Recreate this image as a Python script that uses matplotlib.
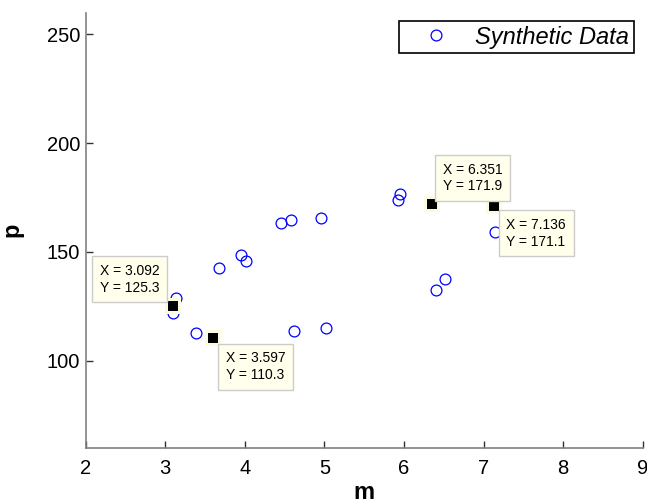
import numpy as np
import matplotlib.pyplot as plt

plt.rcParams['font.family'] = ['Liberation Sans', 'DejaVu Sans']

# synthetic data points
m = [3.13, 3.10, 3.38, 3.68, 3.95, 4.01, 4.45, 4.58, 4.96, 4.62, 5.02,
     5.95, 5.93, 7.15, 6.52, 6.40, 3.092, 3.597, 6.351, 7.136]
p = [128.7, 121.8, 112.5, 142.4, 148.4, 145.8, 163.3, 164.5, 165.6, 113.5, 115.0,
     176.6, 174.0, 159.2, 137.7, 132.5, 125.3, 110.3, 171.9, 171.1]

# data tips
tip_x = [3.092, 3.597, 6.351, 7.136]
tip_y = [125.3, 110.3, 171.9, 171.1]
tip_offset = [(-13, 11), (13, -13), (11, 11), (12, -12)]
tip_align = [('right', 'bottom'), ('left', 'top'), ('left', 'bottom'), ('left', 'top')]

fig = plt.figure(figsize=(6.47, 5.04), dpi=100)
ax = fig.add_axes([0.1325, 0.1117, 0.8608, 0.8633])

ax.plot(m, p, 'o', mfc='none', mec='#0000ff', ms=7.8, mew=0.9, label='Synthetic Data')

# datatip markers
ax.plot(tip_x, tip_y, 's', color='#fbfbe0', ms=11, mew=0, zorder=4)
ax.plot(tip_x, tip_y, 's', color='black', ms=7, mew=0, zorder=5)
for x, y, off, (ha, va) in zip(tip_x, tip_y, tip_offset, tip_align):
    ax.annotate('X = %g\nY = %g' % (x, y), xy=(x, y), xytext=off,
                textcoords='offset pixels', ha=ha, va=va, fontsize=10,
                linespacing=1.25, zorder=6,
                bbox=dict(boxstyle='square,pad=0.55', fc='#ffffeb', ec='#cccccc', lw=1))

ax.set_xlim(2, 9)
ax.set_ylim(60, 260)
ax.set_xticks(range(2, 10))
ax.set_yticks([100, 150, 200, 250])

for s in ['top', 'right']:
    ax.spines[s].set_visible(False)
for s in ['left', 'bottom']:
    ax.spines[s].set_color('#808080')
    ax.spines[s].set_linewidth(1.2)
ax.tick_params(direction='in', length=5, width=1, color='#333333',
               labelsize=14.5, labelcolor='black')
ax.tick_params(axis='x', pad=8)
ax.tick_params(axis='y', pad=4)

ax.set_xlabel('m', fontsize=17, fontweight='bold', labelpad=2)
ax.set_ylabel('p', fontsize=17, fontweight='bold', labelpad=17)

leg = ax.legend(loc='upper right', bbox_to_anchor=(0.9844, 0.9807), borderaxespad=0,
                prop={'style': 'italic', 'size': 17}, fancybox=False,
                edgecolor='black', framealpha=1, handletextpad=0.25,
                borderpad=0.2, handlelength=2.8)
leg.get_frame().set_linewidth(1.2)

fig.savefig('out.png', dpi=100)
